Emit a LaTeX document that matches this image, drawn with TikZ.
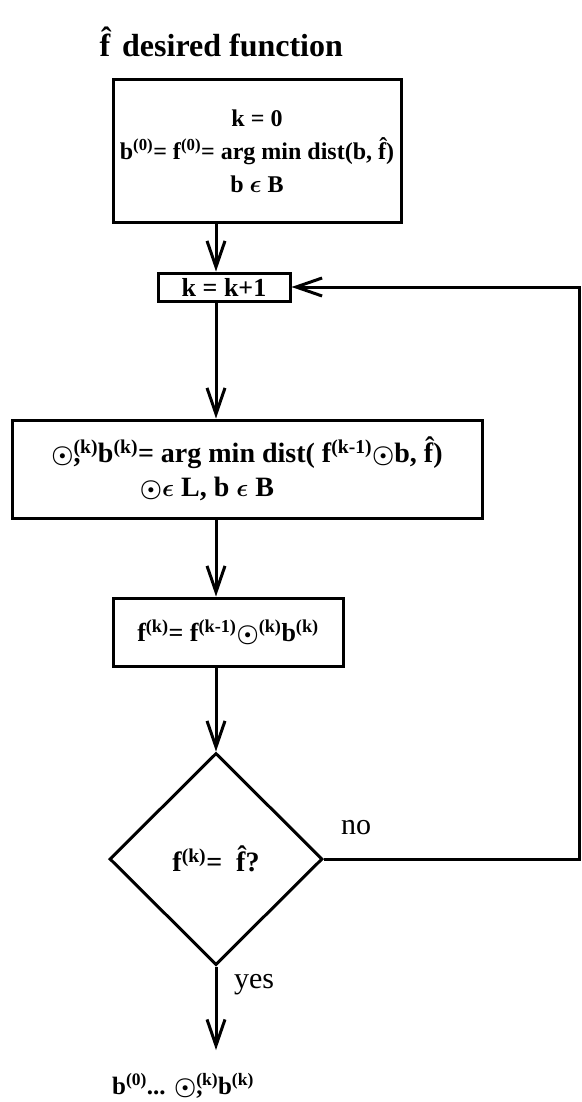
\documentclass[tikz,border=0pt]{standalone}
\usepackage{amsmath}
\usepackage{fontspec}
\setmainfont{Liberation Serif}
\usepackage{tikz}
\usetikzlibrary{shapes.geometric, arrows.meta, positioning, calc}
\tikzstyle{block}    = [rectangle, draw, line width=3pt, text centered,
                        inner sep=0pt, font=\fontsize{26}{33}\selectfont\bfseries,
                        align=center]
\tikzstyle{decision} = [diamond, draw, line width=3pt, aspect=1, inner sep=0pt,
                        minimum width=213pt, minimum height=212pt,
                        font=\fontsize{28}{33}\selectfont\bfseries]
\tikzstyle{tag}      = [font=\fontsize{30}{33}\selectfont]
\tikzstyle{arrow}    = [-{Straight Barb[length=26pt, width=18pt]}, line width=3pt]
\newcommand{\fh}{\^{f}}
\newcommand{\tsup}[1]{\textsuperscript{#1}}
\newcommand{\od}{$\boldsymbol{\odot}$}
\newcommand{\el}{$\boldsymbol{\epsilon}$}
\newcommand{\odkc}{\od\makebox[0pt][l]{\tsup{(k)}},\hspace{0.62em}}
\begin{document}
\begin{tikzpicture}[x=1pt, y=-1pt]
  \useasboundingbox (0,0) rectangle (581,1102);

  % Title
  \node[tag, font=\fontsize{32}{33}\selectfont\bfseries, anchor=west] (title) at (96,42)
    {\fh\hspace{12pt}desired function};

  % Boxes
  \node[block, font=\fontsize{24}{33}\selectfont\bfseries,
        minimum width=288pt, minimum height=142pt] (init) at (257,151)
    {k = 0\\ b\tsup{(0)}= f\tsup{(0)}= arg min dist(b, \fh)\\ b \el{} B};
  \node[block, minimum width=132pt, minimum height=28pt] (incr) at (224,287) {k = k+1};
  \node[block, font=\fontsize{28}{34}\selectfont\bfseries,
        minimum width=470pt, minimum height=98pt] (search) at (247,469)
    {\odkc b\tsup{(k)}= arg min dist( f\tsup{(k-1)}\od b, \fh)\\
     \hspace*{-80pt}\od\el{} L, b \el{} B};
  \node[block, minimum width=230pt, minimum height=68pt] (update) at (228,632)
    {f\tsup{(k)}= f\tsup{(k-1)}\od\tsup{(k)}b\tsup{(k)}};

  % Test
  \node[decision] (test) at (216,859) {f\tsup{(k)}= \ \fh?};
  \node[tag] (no) at (356,828) {no};
  \node[tag] (yes) at (254,985) {yes};

  % Result
  \node[block, draw=none, font=\fontsize{25}{33}\selectfont\bfseries] (result) at (183,1086)
    {b\tsup{(0)}... \odkc b\tsup{(k)}};
  \coordinate (stop) at (216,1050);
  \coordinate (loop) at (579,859);

  % Arrows
  \draw[arrow] (init.south -| test) -- (incr.north -| test);
  \draw[arrow] (incr.south -| test) -- (search.north -| test);
  \draw[arrow] (search.south -| test) -- (update.north -| test);
  \draw[arrow] (update.south -| test) -- (test.north);
  \draw[arrow] (test.south) -- (stop);
  \draw[arrow] (test.east) -- (loop) |- (incr.east);
\end{tikzpicture}
\end{document}
